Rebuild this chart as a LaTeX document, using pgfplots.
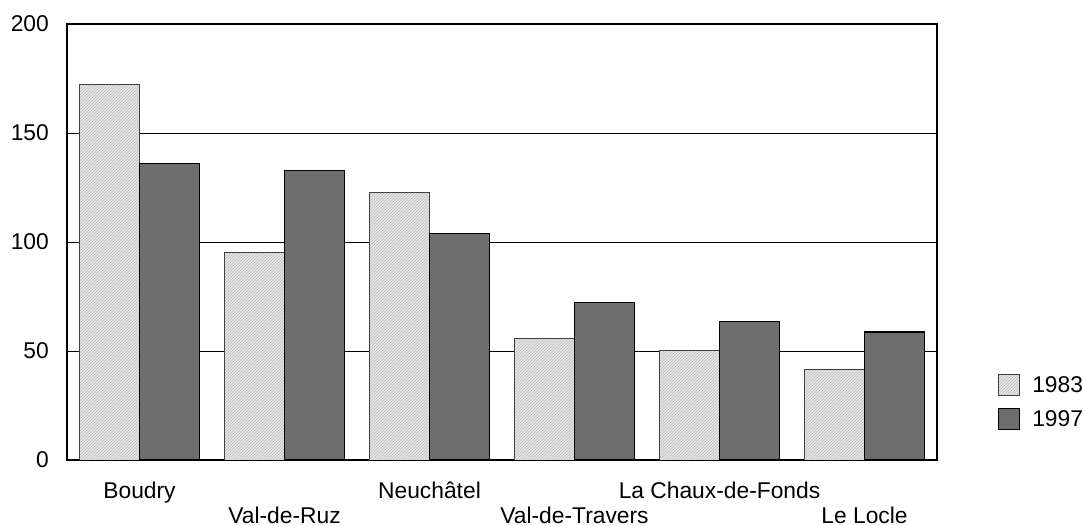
\documentclass[border=0pt]{standalone}
\usepackage{fontspec}
\setmainfont{Liberation Sans}
\usepackage{pgfplots}
\pgfplotsset{compat=1.18}
\usetikzlibrary{patterns}
\definecolor{darkbar}{HTML}{6E6E6E}
\definecolor{lightbar}{HTML}{E8E8E8}
\newcommand{\lA}[1]{\raisebox{0pt}[16.5pt][0pt]{#1}}
\newcommand{\lB}[1]{\raisebox{-24.5pt}[16.5pt][0pt]{#1}}
\begin{document}
\begin{tikzpicture}
\path[use as bounding box] (0,0) rectangle (1083pt,526pt);
\begin{axis}[
  at={(67pt,66pt)}, anchor=south west,
  scale only axis, width=870pt, height=436pt,
  xmin=-0.5, xmax=5.5, ymin=0, ymax=200,
  ybar=0pt, bar width=60pt,
  xtick={0,1,2,3,4,5},
  xticklabels={\lA{Boudry},\lB{Val-de-Ruz},\lA{Neuchâtel},\lB{Val-de-Travers},\lA{La Chaux-de-Fonds},\lB{Le Locle}},
  ytick={0,50,100,150,200},
  major tick length=0pt,
  ymajorgrids, grid style={black, line width=0.8pt},
  axis line style={black, line width=1.1pt},
  tick label style={font=\fontsize{22.8}{27}\selectfont},
  /pgf/number format/assume math mode=true,
  xticklabel style={anchor=north, inner sep=0pt, yshift=-22pt},
  yticklabel style={anchor=east, inner sep=0pt, xshift=-18pt},
  legend style={at={(axis description cs:1,0)}, anchor=south west, xshift=61pt, yshift=30pt,
    draw=none, fill=none, inner sep=0pt, row sep=12pt,
    font=\fontsize{22.8}{27}\selectfont,
    nodes={inner sep=0pt, anchor=base west}},
  legend cell align=left,
  legend image code/.code={\draw[#1] (0pt,-3pt) rectangle (21pt,18pt);},
]
\addplot[draw=black!75, line width=0.8pt, fill=lightbar, postaction={pattern=north east lines, pattern color=gray!55}]
  coordinates {(0,172.5) (1,95.4) (2,122.9) (3,55.8) (4,50.3) (5,41.6)};
\addplot[draw=black, line width=1.1pt, fill=darkbar]
  coordinates {(0,136.2) (1,133.0) (2,103.7) (3,72.3) (4,63.4) (5,58.7)};
\legend{\hspace{12pt}1983,\hspace{12pt}1997}
\end{axis}
\end{tikzpicture}
\end{document}
